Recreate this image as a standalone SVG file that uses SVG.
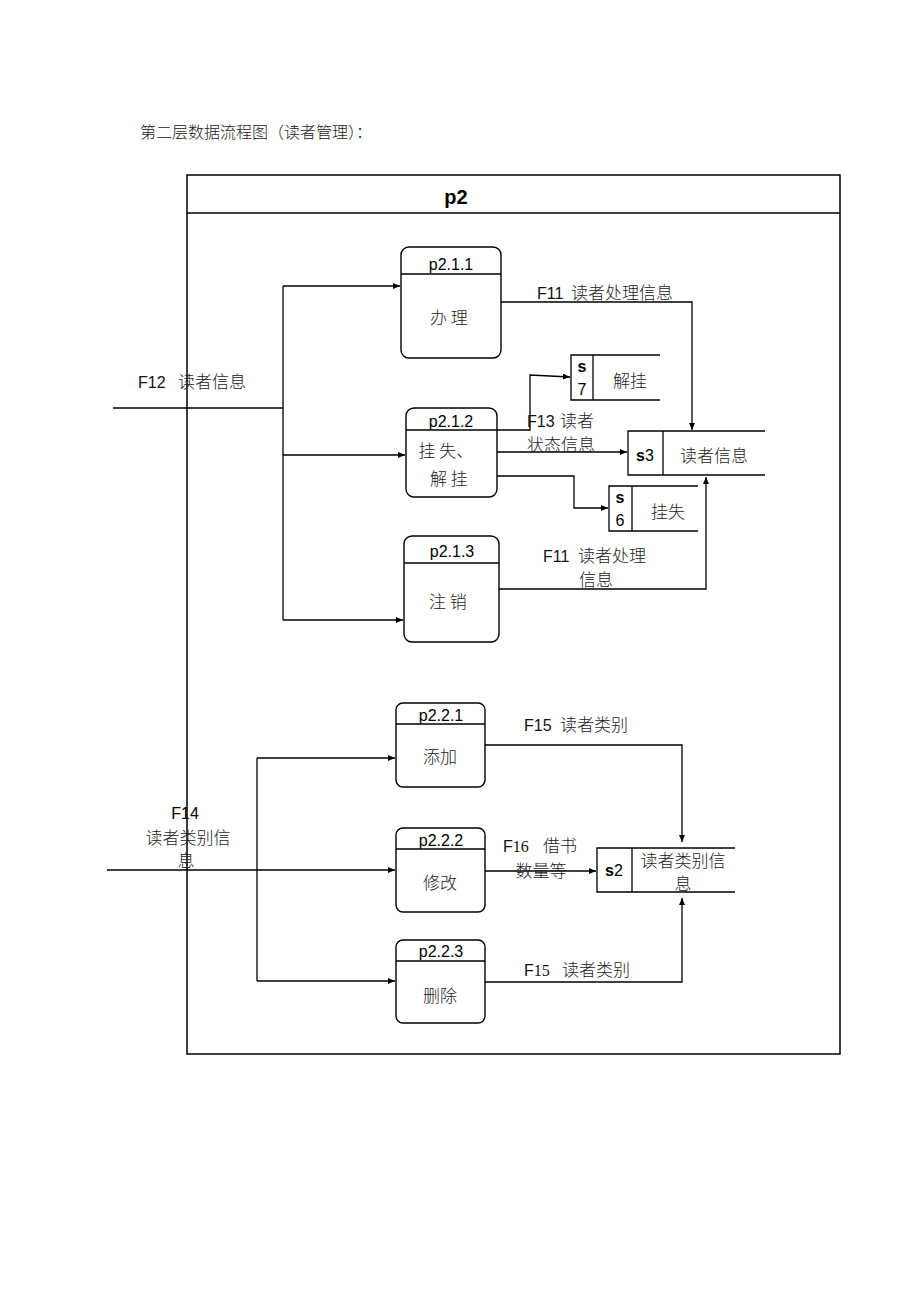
<svg xmlns="http://www.w3.org/2000/svg" width="920" height="1302" viewBox="0 0 920 1302">
<style>
.ln{fill:none;stroke:#000;stroke-width:1.3}
.box{fill:#fff;stroke:#000;stroke-width:1.4}
.lat{font-family:"Liberation Sans",Arial,sans-serif;font-size:16px;fill:#000}
.cjk{font-family:"Noto Sans CJK SC",sans-serif;font-size:17px;fill:#222;font-weight:300}
.mix{font-family:"Liberation Sans","Noto Sans CJK SC",sans-serif;font-size:16px;fill:#111}
.c{font-family:"Noto Sans CJK SC",sans-serif;font-size:17px;font-weight:300;fill:#222}
.mid{text-anchor:middle}
</style>
<defs>
<marker id="ar" markerWidth="8" markerHeight="6" refX="7" refY="3" orient="auto" markerUnits="userSpaceOnUse">
<path d="M0,0 L7,3 L0,6 z" fill="#000"/>
</marker>
</defs>
<rect width="920" height="1302" fill="#fff"/>
<text x="140" y="138" style="font-family:'Noto Sans CJK SC',sans-serif;font-size:16px;fill:#222;font-weight:300">第二层数据流程图（读者管理）：</text>
<g id="frame">
<rect x="187" y="175" width="653" height="879" fill="none" stroke="#000" stroke-width="1.5"/>
<line x1="187" y1="213" x2="840" y2="213" stroke="#000" stroke-width="1.5"/>
<text x="456" y="204" class="lat mid" style="font-size:20px;font-weight:bold">p2</text>
</g>
<g id="connectors">
<polyline class="ln" points="113,408 283,408"/>
<line class="ln" x1="283" y1="286" x2="283" y2="620"/>
<polyline class="ln" points="283,286 400,286" marker-end="url(#ar)"/>
<polyline class="ln" points="283,455 405,455" marker-end="url(#ar)"/>
<polyline class="ln" points="283,620 403,620" marker-end="url(#ar)"/>
<polyline class="ln" points="501,302 692,302 692,430" marker-end="url(#ar)"/>
<polyline class="ln" points="497,430 530,430 530,375 570,377" marker-end="url(#ar)"/>
<polyline class="ln" points="497,452 627,452" marker-end="url(#ar)"/>
<polyline class="ln" points="497,476 574,476 574,508 608,508" marker-end="url(#ar)"/>
<polyline class="ln" points="499,589 706,589 706,477" marker-end="url(#ar)"/>
<polyline class="ln" points="107,870 395,870" marker-end="url(#ar)"/>
<line class="ln" x1="257" y1="758" x2="257" y2="981"/>
<polyline class="ln" points="257,758 395,758" marker-end="url(#ar)"/>
<polyline class="ln" points="257,981 395,981" marker-end="url(#ar)"/>
<polyline class="ln" points="485,745 682,745 682,842" marker-end="url(#ar)"/>
<polyline class="ln" points="485,871 596,871" marker-end="url(#ar)"/>
<polyline class="ln" points="485,982 682,982 682,898" marker-end="url(#ar)"/>
<text x="138" y="388" class="mix">F12<tspan x="178" class="c">读者信息</tspan></text>
<text x="537" y="299" class="mix">F11<tspan x="571" class="c">读者处理信息</tspan></text>
<text x="527" y="427" class="mix">F13<tspan x="560" class="c">读者</tspan></text>
<text x="527" y="451" class="cjk">状态信息</text>
<text x="543" y="562" class="mix">F11<tspan x="578" class="c">读者处理</tspan></text>
<text x="596" y="586" class="cjk mid">信息</text>
<text x="185" y="819" class="lat mid">F14</text>
<text x="188" y="844" class="cjk mid">读者类别信</text>
<text x="186" y="867" class="cjk mid">息</text>
<text x="524" y="731" class="mix">F15<tspan x="560" class="c">读者类别</tspan></text>
<text x="503" y="852" class="mix">F<tspan style="font-family:'Liberation Serif',serif">16</tspan><tspan x="543" class="c">借书</tspan></text>
<text x="541" y="877" class="cjk mid">数量等</text>
<text x="524" y="976" class="mix">F<tspan style="font-family:'Liberation Serif',serif">15</tspan><tspan x="562" class="c">读者类别</tspan></text>
</g>
<g id="p211">
<rect class="box" x="401" y="247" width="100" height="111" rx="8"/>
<line class="ln" x1="401" y1="274" x2="501" y2="274"/>
<text x="451" y="270" class="lat mid">p2.1.1</text>
<text x="449" y="324" class="cjk mid">办 理</text>
</g>
<g id="p212">
<rect class="box" x="406" y="408" width="91" height="89" rx="8"/>
<line class="ln" x1="406" y1="430" x2="497" y2="430"/>
<text x="451" y="427" class="lat mid">p2.1.2</text>
<text x="446" y="457" class="cjk mid">挂 失、</text>
<text x="449" y="485" class="cjk mid">解 挂</text>
</g>
<g id="p213">
<rect class="box" x="404" y="536" width="95" height="106" rx="8"/>
<line class="ln" x1="404" y1="563" x2="499" y2="563"/>
<text x="452" y="557" class="lat mid">p2.1.3</text>
<text x="448" y="608" class="cjk mid">注 销</text>
</g>
<g id="p221">
<rect class="box" x="396" y="703" width="89" height="84" rx="7"/>
<line class="ln" x1="396" y1="724" x2="485" y2="724"/>
<text x="441" y="721" class="lat mid">p2.2.1</text>
<text x="440" y="763" class="cjk mid">添加</text>
</g>
<g id="p222">
<rect class="box" x="396" y="828" width="89" height="84" rx="7"/>
<line class="ln" x1="396" y1="849" x2="485" y2="849"/>
<text x="441" y="846" class="lat mid">p2.2.2</text>
<text x="440" y="889" class="cjk mid">修改</text>
</g>
<g id="p223">
<rect class="box" x="396" y="940" width="89" height="83" rx="7"/>
<line class="ln" x1="396" y1="961" x2="485" y2="961"/>
<text x="441" y="957" class="lat mid">p2.2.3</text>
<text x="440" y="1002" class="cjk mid">删除</text>
</g>
<g id="s7">
<polyline class="ln" points="660,355 571,355 571,400 660,400"/>
<line class="ln" x1="593" y1="355" x2="593" y2="400"/>
<text x="582" y="372" class="lat mid" style="font-weight:bold">s</text>
<text x="582" y="395" class="lat mid">7</text>
<text x="630" y="387" class="cjk mid">解挂</text>
</g>
<g id="s3">
<polyline class="ln" points="765,431 628,431 628,475 765,475"/>
<line class="ln" x1="663" y1="431" x2="663" y2="475"/>
<text x="645" y="461" class="lat mid"><tspan style="font-weight:bold">s</tspan>3</text>
<text x="714" y="462" class="cjk mid">读者信息</text>
</g>
<g id="s6">
<polyline class="ln" points="698,486 609,486 609,531 698,531"/>
<line class="ln" x1="632" y1="486" x2="632" y2="531"/>
<text x="620" y="503" class="lat mid" style="font-weight:bold">s</text>
<text x="620" y="526" class="lat mid">6</text>
<text x="668" y="518" class="cjk mid">挂失</text>
</g>
<g id="s2">
<polyline class="ln" points="735,848 597,848 597,892 735,892"/>
<line class="ln" x1="632" y1="848" x2="632" y2="892"/>
<text x="614" y="876" class="lat mid"><tspan style="font-weight:bold">s</tspan>2</text>
<text x="683" y="867" class="cjk mid">读者类别信</text>
<text x="683" y="890" class="cjk mid">息</text>
</g>
</svg>
